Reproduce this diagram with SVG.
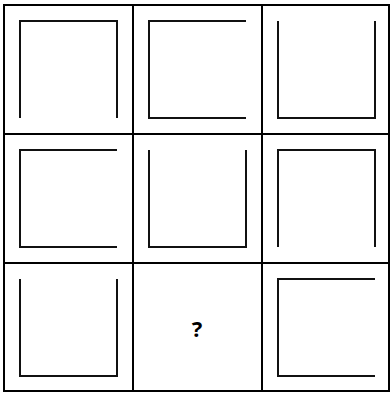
<svg xmlns="http://www.w3.org/2000/svg" width="390" height="394" viewBox="0 0 390 394">
<style>
.grid{stroke:#000;stroke-width:2;fill:none}
.shape{stroke:#111;stroke-width:2;fill:none;stroke-linecap:butt;stroke-linejoin:miter}
.q{font-family:"Noto Sans","Open Sans","Liberation Sans",sans-serif;font-weight:bold;font-size:22px;fill:#000}
</style>
<rect width="390" height="394" fill="#fff"/>
<g id="grid" class="grid">
<rect x="4" y="5" width="385" height="386"/>
<line x1="133" y1="5" x2="133" y2="391"/>
<line x1="262" y1="5" x2="262" y2="391"/>
<line x1="4" y1="134" x2="389" y2="134"/>
<line x1="4" y1="263" x2="389" y2="263"/>
</g>
<g id="cell-1-1"><path class="shape" d="M20,118 V21 H117 V118"/></g>
<g id="cell-1-2"><path class="shape" d="M246,21 H149 V118 H246"/></g>
<g id="cell-1-3"><path class="shape" d="M278,21 V118 H375 V21"/></g>
<g id="cell-2-1"><path class="shape" d="M117,150 H20 V247 H117"/></g>
<g id="cell-2-2"><path class="shape" d="M149,150 V247 H246 V150"/></g>
<g id="cell-2-3"><path class="shape" d="M278,247 V150 H375 V247"/></g>
<g id="cell-3-1"><path class="shape" d="M20,279 V376 H117 V279"/></g>
<g id="cell-3-2"><text class="q" x="197" y="337" text-anchor="middle">?</text></g>
<g id="cell-3-3"><path class="shape" d="M375,279 H278 V376 H375"/></g>
</svg>
